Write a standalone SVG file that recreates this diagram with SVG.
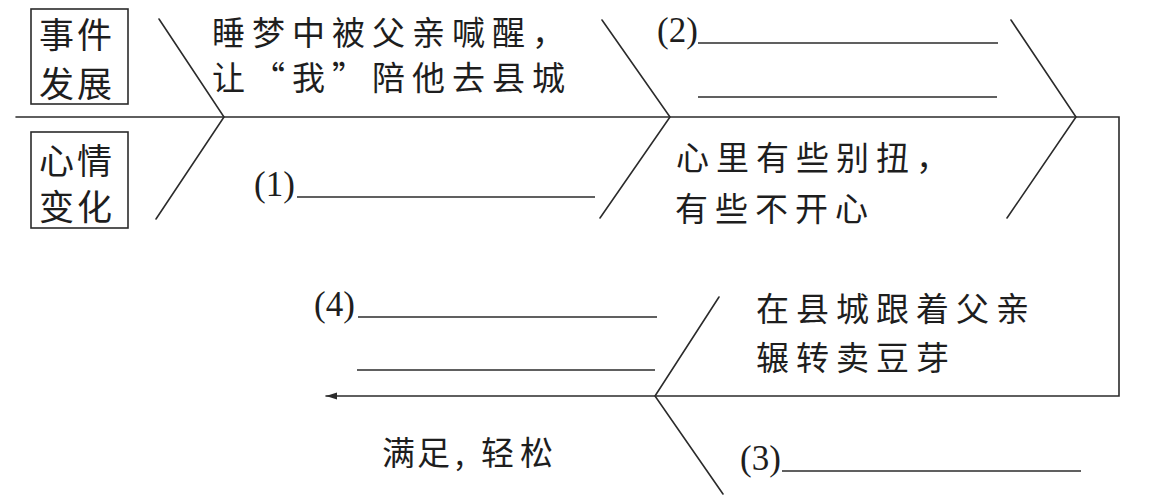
<svg xmlns="http://www.w3.org/2000/svg" width="1161" height="502" viewBox="0 0 1161 502">
<defs>
<style>
.ln{fill:none;stroke:#2b2b2b;stroke-width:1.6;stroke-linecap:round;stroke-linejoin:miter}
.box{fill:none;stroke:#2b2b2b;stroke-width:1.6}
.cn{font-family:"Noto Sans CJK SC","Noto Sans",sans-serif;font-size:33px;fill:#1e1e1e;letter-spacing:7px}
.bx{font-family:"Noto Sans CJK SC","Noto Sans",sans-serif;font-size:35px;fill:#1e1e1e}
.num{font-family:"Liberation Serif","Times New Roman",serif;font-size:35px;fill:#1e1e1e}
.bl{fill:none;stroke:#2b2b2b;stroke-width:1.5}
</style>
<marker id="arr" markerWidth="12" markerHeight="8" refX="11" refY="4" orient="auto" markerUnits="userSpaceOnUse">
<path d="M0,0.5 L11,4 L0,7.5 Z" fill="#2b2b2b"/>
</marker>
</defs>
<rect width="1161" height="502" fill="#ffffff"/>

<g id="connectors">
<path class="ln" d="M16,117 H1119 V396 H326" marker-end="url(#arr)"/>
<polyline class="ln" points="159,19 224,117 156,219"/>
<polyline class="ln" points="602,20 670,117 600,218"/>
<polyline class="ln" points="1011,20 1076,117 1007,218"/>
<polyline class="ln" points="719,297 655,396 723,494"/>
</g>

<g id="label-events">
<rect class="box" x="31" y="9" width="97" height="95"/>
<text class="bx" x="39 77" y="48">事件</text>
<text class="bx" x="39 77" y="97">发展</text>
</g>

<g id="label-mood">
<rect class="box" x="31" y="132" width="97" height="96"/>
<text class="bx" x="39 77" y="174">心情</text>
<text class="bx" x="39 77" y="220">变化</text>
</g>

<g id="event-1">
<text class="cn" x="212" y="45">睡梦中被父亲喊醒，</text>
<text class="cn" style="letter-spacing:0" x="212 252 292 332 372 412 452 492 532" y="90">让“我”陪他去县城</text>
</g>

<g id="mood-1">
<text class="num" x="254" y="196">(1)</text>
<line class="bl" x1="297" y1="197" x2="595" y2="197"/>
</g>

<g id="event-2">
<text class="num" x="657" y="42">(2)</text>
<line class="bl" x1="698" y1="43" x2="998" y2="43"/>
<line class="bl" x1="698" y1="97" x2="997" y2="97"/>
</g>

<g id="mood-2">
<text class="cn" x="676" y="170">心里有些别扭，</text>
<text class="cn" x="675" y="221">有些不开心</text>
</g>

<g id="event-3">
<text class="cn" x="756" y="321">在县城跟着父亲</text>
<text class="cn" x="756" y="370">辗转卖豆芽</text>
</g>

<g id="mood-3">
<text class="num" x="740" y="470">(3)</text>
<line class="bl" x1="782" y1="471" x2="1081" y2="471"/>
</g>

<g id="event-4">
<text class="num" x="314" y="316">(4)</text>
<line class="bl" x1="358" y1="317" x2="657" y2="317"/>
<line class="bl" x1="357" y1="370" x2="655" y2="370"/>
</g>

<g id="mood-4">
<text class="cn" style="letter-spacing:0" x="382 417 455 463 481 520" y="465">满足, 轻松</text>
</g>
</svg>
